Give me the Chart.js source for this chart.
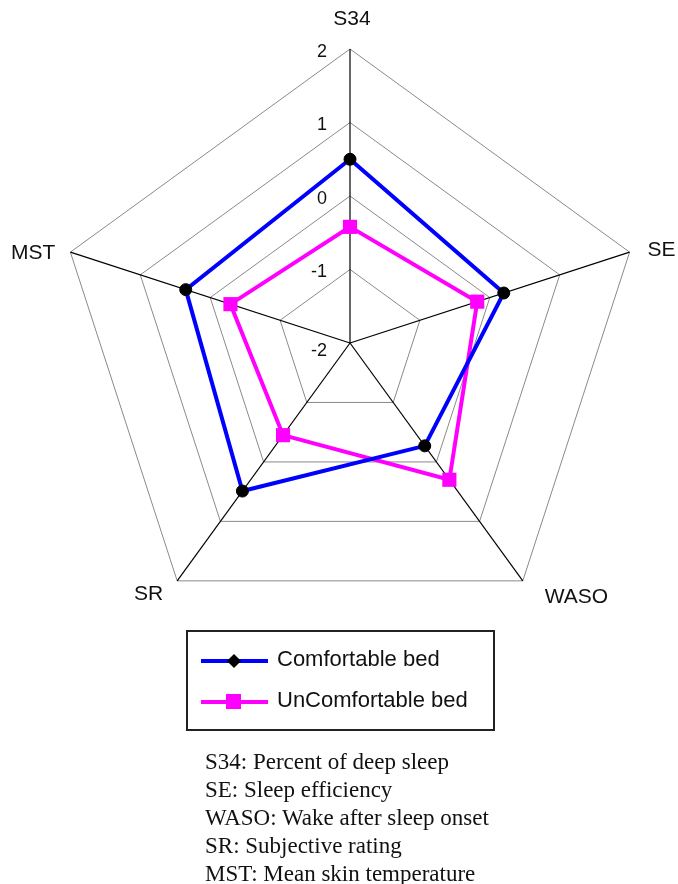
<!DOCTYPE html>
<html>
<head>
<meta charset="utf-8">
<script src="https://cdn.jsdelivr.net/npm/chart.js@4/dist/chart.umd.min.js"></script>
<style>
  html, body { margin: 0; padding: 0; background: #fff; }
  #wrap { position: relative; width: 678px; height: 884px; overflow: hidden; }
  #c { position: absolute; left: 0; top: 0; }
  #legend { position: absolute; left: 186px; top: 630px; width: 309px; height: 101px; box-sizing: border-box; border: 2px solid #222; }
  .row { position: absolute; left: 0; width: 100%; height: 30px; }
  .ln { position: absolute; left: 13px; width: 67px; height: 4px; top: 13px; }
  .mk { position: absolute; }
  .txt { position: absolute; left: 89px; top: 0; line-height: 30px; font: 22px "Liberation Sans", Arial, sans-serif; color: #111; white-space: nowrap; }
  #caption { position: absolute; left: 205px; top: 748px; font: 23px "Liberation Serif", "Times New Roman", serif; line-height: 28px; color: #111; white-space: nowrap; }
</style>
</head>
<body>
<div id="wrap">
  <canvas id="c" width="678" height="640"></canvas>
  <div id="legend"></div>
  <div id="caption"></div>
</div>
<script>
// ---- data ----
const categories = ['S34', 'SE', 'WASO', 'SR', 'MST'];
const comfortable = [0.50, 0.20, -0.27, 0.49, 0.35];
const uncomfortable = [-0.42, -0.18, 0.30, -0.45, -0.29];
const seriesNames = ['Comfortable bed', 'UnComfortable bed'];
const scaleMin = -2;
const scaleMax = 2;
const tickStep = 1;
const captionLines = [
  'S34: Percent of deep sleep',
  'SE: Sleep efficiency',
  'WASO: Wake after sleep onset',
  'SR: Subjective rating',
  'MST: Mean skin temperature'
];

// ---- overlay plugin: tick labels left of the axis, point labels ----
const overlay = {
  id: 'overlay',
  afterDatasetsDraw(chart, args, opts) {
    const s = chart.scales.r;
    const ctx = chart.ctx;
    ctx.save();
    ctx.fillStyle = '#111';
    ctx.font = '18px "Liberation Sans", Arial, sans-serif';
    ctx.textAlign = 'right';
    ctx.textBaseline = 'middle';
    s.ticks.forEach(t => {
      const p = s.getPointPositionForValue(0, t.value);
      ctx.fillText(t.label, p.x - 23, p.y + (t.value === s.min ? 8 : 3));
    });
    ctx.font = '21px "Liberation Sans", Arial, sans-serif';
    chart.data.labels.forEach((lab, i) => {
      const p = s.getPointPosition(i, s.drawingArea);
      const o = opts.offsets[i];
      ctx.textAlign = o.align;
      ctx.fillText(lab, p.x + o.dx, p.y + o.dy);
    });
    ctx.restore();
  }
};

new Chart(document.getElementById('c'), {
  type: 'radar',
  data: {
    labels: categories,
    datasets: [
      {
        label: seriesNames[0],
        data: comfortable,
        borderColor: '#0000ff',
        backgroundColor: '#000',
        borderWidth: 4,
        fill: false,
        tension: 0,
        pointStyle: 'circle',
        pointRadius: 6,
        pointBackgroundColor: '#000',
        pointBorderColor: '#000',
        pointBorderWidth: 1
      },
      {
        label: seriesNames[1],
        data: uncomfortable,
        borderColor: '#ff00ff',
        backgroundColor: '#ff00ff',
        borderWidth: 4,
        fill: false,
        tension: 0,
        pointStyle: 'rect',
        pointRadius: 10,
        pointBackgroundColor: '#ff00ff',
        pointBorderColor: '#ff00ff',
        pointBorderWidth: 0
      }
    ]
  },
  options: {
    responsive: false,
    animation: false,
    devicePixelRatio: 1,
    layout: { padding: { left: 56, right: 34, top: 49, bottom: 3 } },
    plugins: {
      legend: { display: false },
      tooltip: { enabled: false },
      overlay: {
        offsets: [
          { dx: 2, dy: -30, align: 'center' },
          { dx: 18, dy: -2, align: 'left' },
          { dx: 22, dy: 16, align: 'left' },
          { dx: -14, dy: 13, align: 'right' },
          { dx: -15, dy: 1, align: 'right' }
        ]
      }
    },
    scales: {
      r: {
        min: scaleMin,
        max: scaleMax,
        ticks: { stepSize: tickStep, display: false },
        pointLabels: { display: false },
        grid: { color: '#8a8a8a', lineWidth: 1, borderDash: [2, 2] },
        angleLines: { color: '#000', lineWidth: 1.2 }
      }
    }
  },
  plugins: [overlay]
});

// ---- HTML legend ----
const legend = document.getElementById('legend');
const legendStyles = [
  { color: '#0000ff', mk: 'width:10px;height:10px;background:#000;transform:rotate(45deg);left:41px;top:10px;' },
  { color: '#ff00ff', mk: 'width:15px;height:15px;background:#ff00ff;left:38px;top:7px;' }
];
seriesNames.forEach((name, i) => {
  const row = document.createElement('div');
  row.className = 'row';
  row.style.top = (14 + i * 41) + 'px';
  row.innerHTML = '<div class="ln" style="background:' + legendStyles[i].color + '"></div>' +
    '<div class="mk" style="' + legendStyles[i].mk + '"></div>' +
    '<div class="txt">' + name + '</div>';
  legend.appendChild(row);
});

document.getElementById('caption').innerHTML = captionLines.join('<br>');
</script>
</body>
</html>
